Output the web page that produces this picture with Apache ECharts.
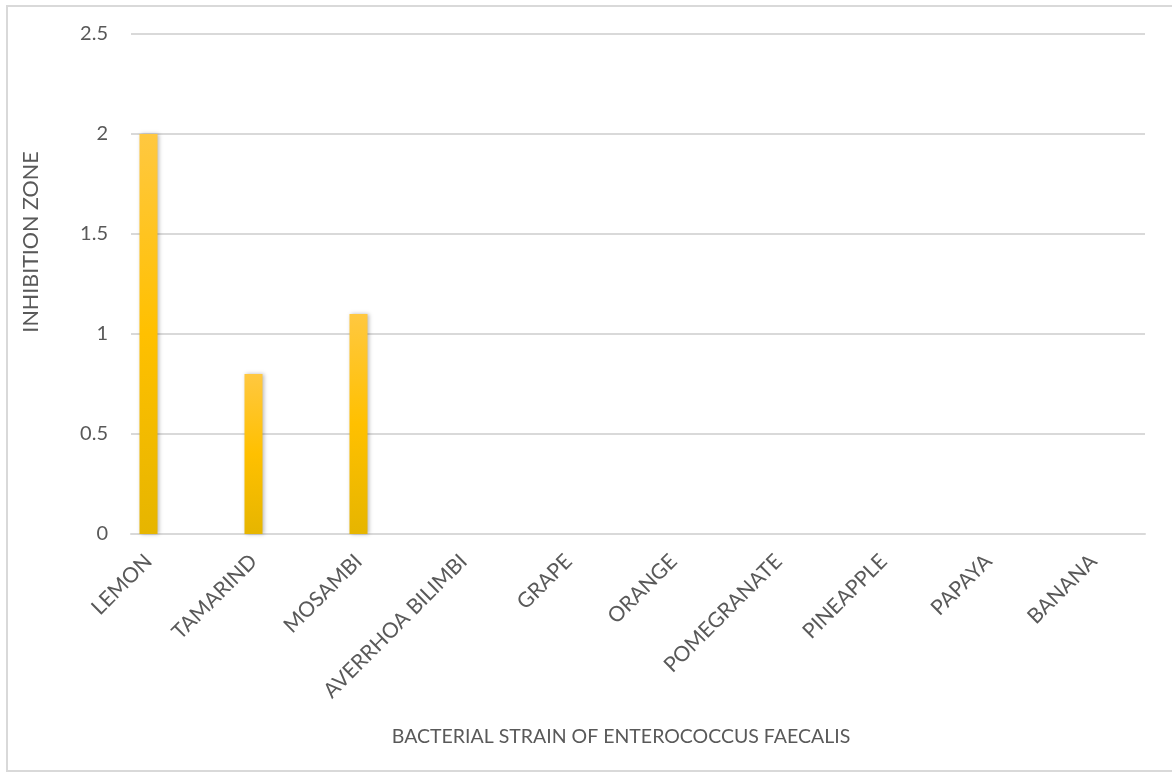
<!DOCTYPE html>
<html>
<head>
<meta charset="utf-8">
<script src="https://cdn.jsdelivr.net/npm/echarts@6/dist/echarts.min.js"></script>
<style>
  html, body { margin: 0; padding: 0; background: #ffffff; }
  #chart { width: 1172px; height: 773px; }
</style>
</head>
<body>
<div id="chart"></div>
<script>
// Fruit extracts tested against Enterococcus faecalis
const categories = ['LEMON', 'TAMARIND', 'MOSAMBI', 'AVERRHOA BILIMBI', 'GRAPE', 'ORANGE', 'POMEGRANATE', 'PINEAPPLE', 'PAPAYA', 'BANANA'];
const inhibitionZone = [2, 0.8, 1.1, 0, 0, 0, 0, 0, 0, 0];
const yTicks = [0, 0.5, 1, 1.5, 2, 2.5];

const FONT = 'Lato, "Liberation Sans", sans-serif';
const TEXT = '#595959';
const GRID_LINE = '#d9d9d9';

const chart = echarts.init(document.getElementById('chart'), null, { renderer: 'canvas' });

const yMin = yTicks[0];
const yMax = yTicks[yTicks.length - 1];
const yStep = yTicks[1] - yTicks[0];

chart.setOption({
  animation: false,
  backgroundColor: '#ffffff',
  grid: [
    // value scale with gridlines
    { left: 131, right: 27, top: 34, bottom: 239, containLabel: false },
    // category band holding the bars
    { left: 96, right: 26, top: 34, bottom: 239, containLabel: false }
  ],
  xAxis: [
    {
      gridIndex: 0, type: 'category', data: categories,
      axisLine: { show: true, lineStyle: { color: GRID_LINE, width: 2 } },
      axisTick: { show: false }, axisLabel: { show: false }, splitLine: { show: false }
    },
    {
      gridIndex: 1, type: 'category', data: categories,
      axisLine: { show: false }, axisTick: { show: false },
      axisLabel: {
        interval: 0, rotate: 45, margin: 24,
        color: TEXT, fontFamily: FONT, fontSize: 21
      },
      name: 'BACTERIAL STRAIN OF ENTEROCOCCUS FAECALIS',
      nameLocation: 'middle', nameGap: 193,
      nameTextStyle: { color: TEXT, fontFamily: FONT, fontSize: 19.5 }
    }
  ],
  yAxis: [
    {
      gridIndex: 0, type: 'value', min: yMin, max: yMax, interval: yStep,
      axisLine: { show: false }, axisTick: { show: false },
      axisLabel: { color: TEXT, fontFamily: FONT, fontSize: 20, margin: 23 },
      splitLine: { show: true, lineStyle: { color: GRID_LINE, width: 2 } }
    },
    {
      gridIndex: 1, type: 'value', min: yMin, max: yMax, interval: yStep,
      show: false, splitLine: { show: false }
    }
  ],
  series: [
    {
      type: 'bar', xAxisIndex: 1, yAxisIndex: 1,
      data: inhibitionZone,
      barWidth: 18,
      itemStyle: {
        color: new echarts.graphic.LinearGradient(0, 0, 0, 1, [
          { offset: 0, color: '#FFC840' },
          { offset: 0.5, color: '#FFC000' },
          { offset: 1, color: '#E6B500' }
        ]),
        shadowColor: 'rgba(0,0,0,0.28)',
        shadowBlur: 4,
        shadowOffsetX: 1
      }
    }
  ],
  graphic: [
    {
      type: 'rect', silent: true, z: -1,
      shape: { x: 7, y: 6, width: 1180, height: 765 },
      style: { fill: null, stroke: GRID_LINE, lineWidth: 2 }
    },
    {
      type: 'text', silent: true,
      x: 31, y: 242, rotation: Math.PI / 2,
      style: {
        text: 'INHIBITION ZONE', fill: TEXT,
        font: '21.5px ' + FONT, align: 'center', verticalAlign: 'middle'
      }
    }
  ]
});
</script>
</body>
</html>
